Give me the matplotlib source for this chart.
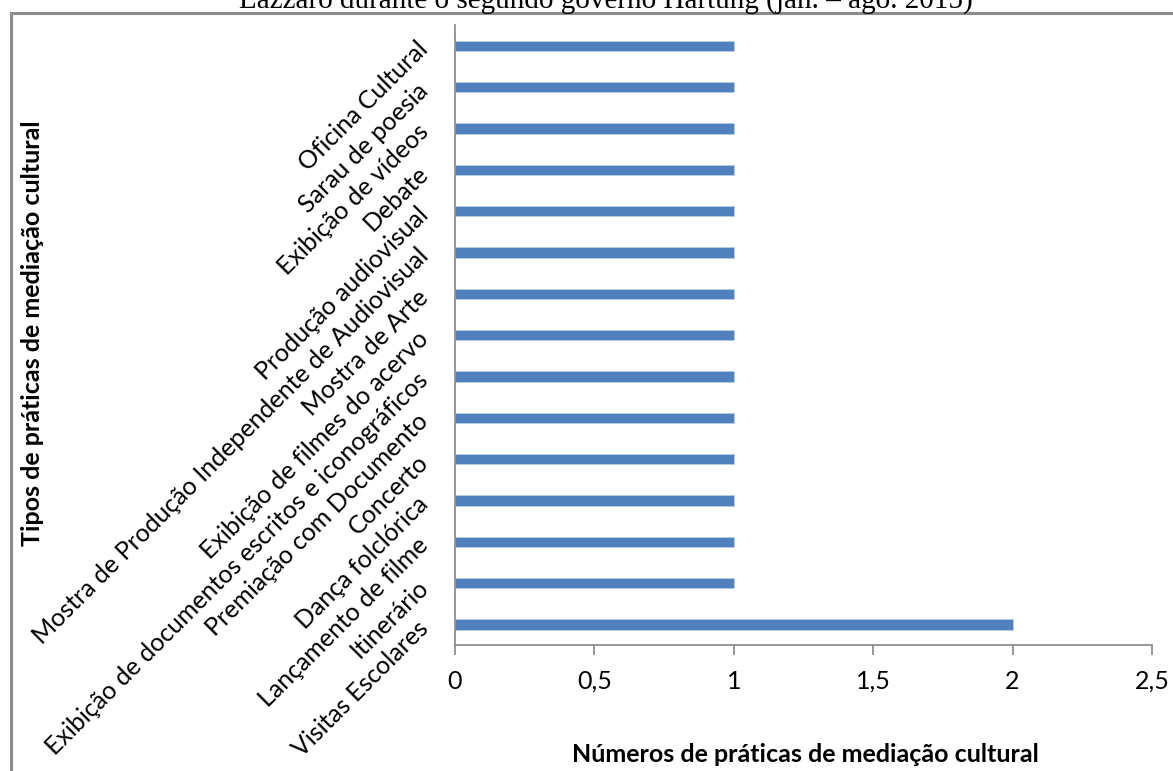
import matplotlib
matplotlib.use("Agg")
import matplotlib.pyplot as plt
from matplotlib.patches import Rectangle
from matplotlib.ticker import FuncFormatter

categories = [
    "Visitas Escolares",
    "Itinerário",
    "Lançamento de filme",
    "Dança folclórica",
    "Concerto",
    "Premiação com Documento",
    "Exibição de documentos escritos e iconográficos",
    "Exibição de filmes do acervo",
    "Mostra de Arte",
    "Mostra de Produção Independente de Audiovisual",
    "Produção audiovisual",
    "Debate",
    "Exibição de vídeos",
    "Sarau de poesia",
    "Oficina Cultural",
]
values = [2, 1, 1, 1, 1, 1, 1, 1, 1, 1, 1, 1, 1, 1, 1]
x_ticks = [0, 0.5, 1, 1.5, 2, 2.5]

title = "Lazzaro durante o segundo governo Hartung (jan. – ago. 2015)"
xlabel = "Números de práticas de mediação cultural"
ylabel = "Tipos de práticas de mediação cultural"

W, H = 1173, 771
fig = plt.figure(figsize=(W / 100, H / 100), dpi=100)
fig.patch.set_facecolor("white")

ax = fig.add_axes([455 / W, 1 - 645 / H, (1152 - 455) / W, (645 - 25) / H])

pos = list(range(len(categories)))
ax.barh(pos, values, height=0.25, color="#4F81BD", edgecolor="#B9CDE5", linewidth=0.6)

ax.set_xlim(0, 2.5)
ax.set_ylim(-0.5, len(categories) - 0.5)
ax.set_xticks(x_ticks)
ax.xaxis.set_major_formatter(FuncFormatter(lambda v, p: f"{v:g}".replace(".", ",")))
ax.set_yticks(pos)
ax.set_yticklabels(categories, rotation=45, ha="right", va="center",
                   rotation_mode="anchor", fontsize=18, family="Lato", color="#000000")

for s in ["top", "right"]:
    ax.spines[s].set_visible(False)
for s in ["left", "bottom"]:
    ax.spines[s].set_color("#868686")
    ax.spines[s].set_linewidth(1.2)

ax.tick_params(axis="y", length=0, pad=22)
ax.tick_params(axis="x", direction="out", length=7, width=1.2, color="#868686",
               pad=11, labelsize=18)
for lab in ax.get_xticklabels():
    lab.set_family("Lato")

fig.text(805 / W, 1 - 755 / H, xlabel, ha="center", va="center",
         fontsize=18, fontweight="bold", family="Lato")
fig.text(33 / W, 1 - 333 / H, ylabel, ha="center", va="center", rotation=90,
         fontsize=18, fontweight="bold", family="Lato")

# cut-off title at top (as in the reference)
fig.text(606 / W, 1 - 1 / H, title, ha="center", va="center",
         fontsize=21, family="Liberation Serif")

# outer chart frame
fig.patches.append(Rectangle((11 / W, -0.1), 1.2, 1 - 13 / H + 0.1,
                             transform=fig.transFigure, fill=False,
                             edgecolor="#8C8C8C", linewidth=2.2, clip_on=False))

fig.savefig("out.png", dpi=100)
